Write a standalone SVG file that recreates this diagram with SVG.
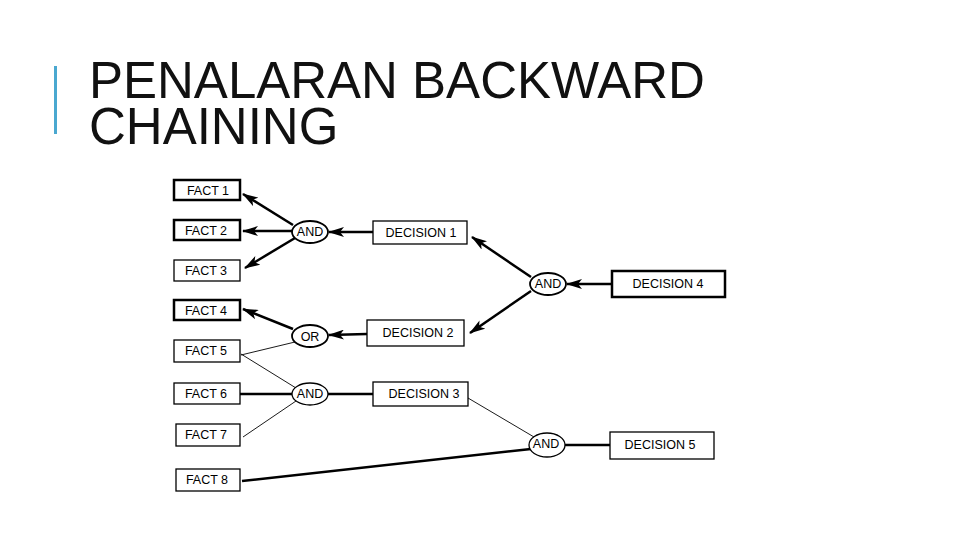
<svg xmlns="http://www.w3.org/2000/svg" width="960" height="540" viewBox="0 0 960 540">
<defs>
<marker id="ah" markerWidth="16" markerHeight="10" refX="15" refY="5" orient="auto" markerUnits="userSpaceOnUse">
<path d="M0,0 L16,5 L0,10 L4,5 Z" fill="#000"/>
</marker>
<style>
.t{font-family:"Liberation Sans",Arial,sans-serif;font-size:51px;fill:#111}
.bt{fill:#fff;stroke:#000;stroke-width:2.5}
.bn{fill:#fff;stroke:#000;stroke-width:1.3}
.l{font-family:"Liberation Sans",Arial,sans-serif;font-size:12.5px;fill:#000;text-anchor:middle}
.el{fill:#fff;stroke:#000;stroke-width:1.8}
.k{stroke:#000;stroke-width:2.5;fill:none}
.n{stroke:#000;stroke-width:0.9;fill:none}
.a{marker-end:url(#ah)}
</style>
</defs>
<rect width="960" height="540" fill="#fff"/>
<g id="title">
<rect x="54" y="66" width="3" height="68" fill="#4aa8d0"/>
<text class="t" x="89" y="98">PENALARAN BACKWARD</text>
<text class="t" x="89" y="144">CHAINING</text>
</g>
<g id="connectors">
<line class="k a" x1="293" y1="225" x2="243" y2="194"/>
<line class="k a" x1="292" y1="231" x2="243" y2="231"/>
<line class="k a" x1="295" y1="238" x2="245" y2="268"/>
<line class="k a" x1="373" y1="232" x2="329" y2="232"/>
<line class="k a" x1="531" y1="277" x2="472" y2="237"/>
<line class="k a" x1="531" y1="291" x2="470" y2="333"/>
<line class="k a" x1="612" y1="284" x2="567" y2="284"/>
<line class="k a" x1="293" y1="329" x2="243" y2="309"/>
<line class="k a" x1="367" y1="334" x2="329" y2="335"/>
<line class="n" x1="295" y1="342" x2="241" y2="355"/>
<line class="n" x1="296" y1="388" x2="241" y2="354"/>
<line class="k" x1="292" y1="394" x2="240" y2="394"/>
<line class="n" x1="296" y1="401" x2="243" y2="437"/>
<line class="k" x1="373" y1="394" x2="328" y2="394"/>
<line class="n" x1="468" y1="398" x2="534" y2="437"/>
<line class="k" x1="242" y1="481" x2="531" y2="449"/>
<line class="k" x1="565" y1="445" x2="610" y2="445"/>
</g>
<g id="fact1"><rect class="bt" x="174" y="180" width="66" height="20"/><text class="l" x="208" y="195">FACT 1</text></g>
<g id="fact2"><rect class="bt" x="174" y="220" width="66" height="20"/><text class="l" x="206" y="235">FACT 2</text></g>
<g id="fact3"><rect class="bn" x="174" y="260" width="66" height="21"/><text class="l" x="206" y="275">FACT 3</text></g>
<g id="fact4"><rect class="bt" x="174" y="300" width="66" height="20"/><text class="l" x="206" y="315">FACT 4</text></g>
<g id="fact5"><rect class="bn" x="174" y="340" width="66" height="22"/><text class="l" x="206" y="355">FACT 5</text></g>
<g id="fact6"><rect class="bn" x="174" y="383" width="66" height="21"/><text class="l" x="206" y="398">FACT 6</text></g>
<g id="fact7"><rect class="bn" x="176" y="424" width="64" height="22"/><text class="l" x="206" y="439">FACT 7</text></g>
<g id="fact8"><rect class="bn" x="176" y="469" width="64" height="22"/><text class="l" x="207" y="484">FACT 8</text></g>
<g id="and1"><ellipse class="el" cx="310" cy="232" rx="18" ry="11"/><text class="l" x="310" y="236">AND</text></g>
<g id="or"><ellipse class="el" cx="310" cy="336" rx="18" ry="11"/><text class="l" x="310" y="341">OR</text></g>
<g id="and2"><ellipse class="bn" cx="310" cy="394" rx="18" ry="11"/><text class="l" x="310" y="398">AND</text></g>
<g id="and4"><ellipse class="el" cx="548" cy="284" rx="18" ry="11"/><text class="l" x="548" y="288">AND</text></g>
<g id="and3"><ellipse class="bn" cx="547" cy="445" rx="18" ry="12"/><text class="l" x="546" y="448">AND</text></g>
<g id="decision1"><rect class="bn" x="373" y="221" width="94" height="23"/><text class="l" x="421" y="237">DECISION 1</text></g>
<g id="decision2"><rect class="bn" x="367" y="320" width="97" height="26"/><text class="l" x="418" y="337">DECISION 2</text></g>
<g id="decision3"><rect class="bn" x="373" y="382" width="95" height="24"/><text class="l" x="424" y="398">DECISION 3</text></g>
<g id="decision4"><rect class="bt" x="612" y="271" width="113" height="26"/><text class="l" x="668" y="288">DECISION 4</text></g>
<g id="decision5"><rect class="bn" x="610" y="432" width="104" height="27"/><text class="l" x="660" y="449">DECISION 5</text></g>
</svg>
